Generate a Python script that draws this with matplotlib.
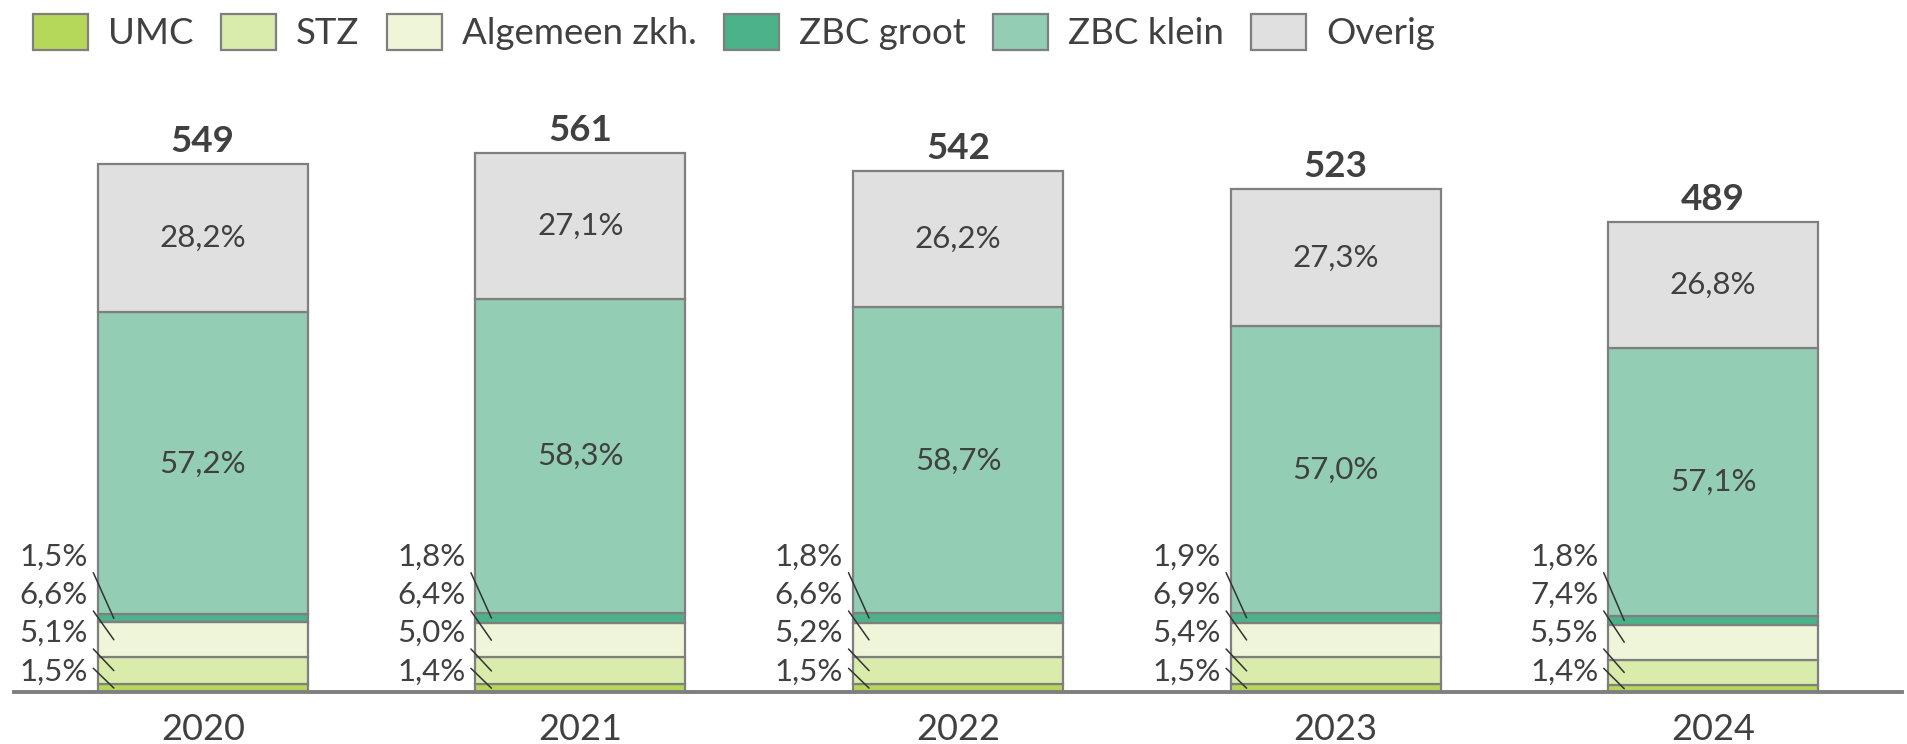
import matplotlib
matplotlib.use("Agg")
import matplotlib.pyplot as plt
import matplotlib.transforms as mtransforms
from matplotlib.patches import Patch

plt.rcParams['font.family'] = ['Lato', 'DejaVu Sans']

years = ["2020", "2021", "2022", "2023", "2024"]
totals = [549, 561, 542, 523, 489]
categories = ["UMC", "STZ", "Algemeen zkh.", "ZBC groot", "ZBC klein", "Overig"]
umc = [1.5, 1.4, 1.5, 1.5, 1.4]
stz = [5.1, 5.0, 5.2, 5.4, 5.5]
algemeen = [6.6, 6.4, 6.6, 6.9, 7.4]
zbc_groot = [1.5, 1.8, 1.8, 1.9, 1.8]
zbc_klein = [57.2, 58.3, 58.7, 57.0, 57.1]
overig = [28.2, 27.1, 26.2, 27.3, 26.8]
series = [umc, stz, algemeen, zbc_groot, zbc_klein, overig]
colors = ["#b5d85a", "#d9ecab", "#eef5d9", "#4bb28a", "#93cdb4", "#e0e0e0"]

TXT = "#404040"
EDGE = "#7f7f7f"

W, H = 1908, 744
fig = plt.figure(figsize=(W / 100, H / 100), dpi=100)
ax = fig.add_axes([14 / W, 1 - 692 / H, 1888 / W, 577 / H])
ax.set_xlim(-0.5, 4.5)
ax.set_ylim(0, 600)

bw = 0.556
x = list(range(len(years)))
bottoms = [0.0] * len(years)
seg_centers = []
for vals, col in zip(series, colors):
    heights = [t * v / 100 for t, v in zip(totals, vals)]
    ax.bar(x, heights, bw, bottom=bottoms, color=col, edgecolor=EDGE,
           linewidth=1.6, zorder=2)
    seg_centers.append([b + h / 2 for b, h in zip(bottoms, heights)])
    bottoms = [b + h for b, h in zip(bottoms, heights)]

def fmt(v):
    return f"{v:.1f}".replace(".", ",") + "%"

# labels inside big segments
for si in (4, 5):
    for i in x:
        ax.text(i, seg_centers[si][i], fmt(series[si][i]), ha="center",
                va="center", fontsize=22.5, color=TXT, zorder=3)

# totals
for i in x:
    tr = mtransforms.offset_copy(ax.transData, fig, x=0, y=12, units="dots")
    ax.text(i, totals[i], str(totals[i]), ha="center", va="baseline",
            fontsize=26.5, fontweight="bold", color=TXT, transform=tr)

# small segment labels with leader lines (pixel offsets are styling)
label_base = [11.3, 50, 88, 126.3]
line_start = [23.7, 43, 81, 119.3]
for si in range(4):
    for i in x:
        left = i - bw / 2
        trt = mtransforms.offset_copy(ax.transData, fig, x=-10,
                                      y=label_base[si], units="dots")
        ax.text(left, 0, fmt(series[si][i]), ha="right", va="baseline",
                fontsize=22.5, color=TXT, transform=trt, clip_on=False)
        trs = mtransforms.offset_copy(ax.transData, fig, x=-4.5,
                                      y=line_start[si], units="dots")
        tre = mtransforms.offset_copy(ax.transData, fig, x=16, y=0,
                                      units="dots")
        ax.annotate("", xy=(left, seg_centers[si][i]), xycoords=tre,
                    xytext=(left, 0), textcoords=trs,
                    arrowprops=dict(arrowstyle="-", color="#333333", lw=1.1,
                                    shrinkA=0, shrinkB=0),
                    zorder=4, annotation_clip=False)

for s in ("top", "left", "right"):
    ax.spines[s].set_visible(False)
ax.spines["bottom"].set_color(EDGE)
ax.spines["bottom"].set_linewidth(2.8)
ax.spines["bottom"].set_zorder(5)
ax.set_yticks([])
ax.set_xticks(x)
ax.set_xticklabels(years, fontsize=26, color=TXT)
ax.tick_params(axis="x", length=0, pad=15)

handles = [Patch(facecolor=c, edgecolor=EDGE, linewidth=1.6) for c in colors]
fig.legend(handles, categories, loc="upper left",
           bbox_to_anchor=(33 / W, 1 - 14 / H), ncol=6, frameon=False,
           fontsize=26.4, handlelength=1.5, handleheight=1.12,
           handletextpad=0.55, columnspacing=0.74, borderpad=0,
           borderaxespad=0, labelcolor=TXT)

fig.savefig("out.png", dpi=100)
